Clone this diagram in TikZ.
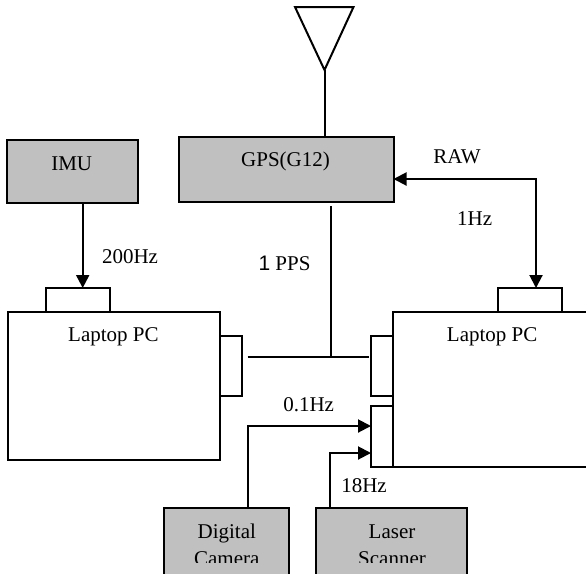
\documentclass[tikz,border=0pt]{standalone}
\usepackage{fontspec}
\setmainfont{Liberation Serif}
\newfontfamily\arialfont{Liberation Sans}
\usetikzlibrary{arrows.meta}
\definecolor{boxgray}{RGB}{192,192,192}
\begin{document}
\begin{tikzpicture}[x=1pt,y=-1pt, line width=2pt,
  box/.style={draw, fill=boxgray, inner sep=0pt, outer sep=0pt, anchor=north west},
  plain/.style={draw, fill=white, inner sep=0pt, outer sep=0pt, anchor=north west},
  txt/.style={font=\fontsize{21}{25}\selectfont, inner sep=0pt, anchor=base},
  arr/.style={-{Triangle[length=13pt,width=13pt]}},
  darr/.style={{Triangle[length=13pt,width=13pt]}-{Triangle[length=13pt,width=13pt]}}]
\clip (0,0) rectangle (586,573);
% boxes
\node[box, minimum width=131pt, minimum height=63.5pt] (imu) at (6.5,139.5) {};
\node[box, minimum width=215pt, minimum height=65pt] (gps) at (178.5,137) {};
\node[plain, minimum width=212pt, minimum height=148pt] (llap) at (8,312) {};
\node[plain, minimum width=64pt, minimum height=24pt] (ltab) at (46,288) {};
\node[plain, minimum width=22pt, minimum height=60pt] (lside) at (220,336) {};
\node[plain, minimum width=215pt, minimum height=155pt] (rlap) at (393,312) {};
\node[plain, minimum width=64pt, minimum height=24pt] (rtab) at (498,288) {};
\node[plain, minimum width=22pt, minimum height=59.5pt] (rside) at (371,336) {};
\node[plain, minimum width=22pt, minimum height=61pt] (rside2) at (371,406) {};
\node[box, minimum width=125pt, minimum height=80pt] (cam) at (164,508) {};
\node[box, minimum width=151pt, minimum height=80pt] (las) at (316,508) {};
% antenna
\coordinate (ant) at (324.5,70);
\draw[line join=miter] (295,7) -- (353.5,7) -- (ant) -- cycle;
\draw (ant) -- (ant |- gps.north);
% 1 PPS
\coordinate (ppstop) at (330.5,206);
\coordinate (ppsj) at (330.5,357);
\coordinate (ppsl) at (247.5,357);
\coordinate (ppsr) at (369,357);
\draw (ppstop) -- (ppsj);
\draw (ppsl) -- (ppsr);
% RAW
\coordinate (rawc) at (536,179);
\draw[darr] (gps.east |- rawc) -- (rawc) -- (rawc |- rtab.north);
% IMU
\coordinate (imux) at (82.7,250);
\draw[arr] (imux |- imu.south) -- (imux |- ltab.north);
% camera and laser
\coordinate (camc) at (247.5,426);
\draw[arr] (camc |- cam.north) -- (camc) -- (camc -| rside2.west);
\coordinate (lasc) at (330,453);
\draw[arr] (lasc |- las.north) -- (lasc) -- (lasc -| rside2.west);
% texts
\node[txt] (timu) at (71.7,170) {IMU};
\node[txt] (tgps) at (285.5,166.7) {GPS(G12)};
\node[txt] (traw) at (457,163.3) {RAW};
\node[txt] (t1hz) at (474.6,225.7) {1Hz};
\node[txt] (t200) at (130,263.3) {200Hz};
\node[txt] (tpps) at (284.5,270) {{\arialfont 1} PPS};
\node[txt] (tll) at (113.4,341.7) {Laptop PC};
\node[txt] (trl) at (492.2,341.7) {Laptop PC};
\node[txt] (t01) at (308.7,411.7) {0.1Hz};
\node[txt] (t18) at (364,492.7) {18Hz};
\node[txt] (tdig) at (226.8,538.3) {Digital};
\node[txt] (tlas) at (392,538.3) {Laser};
\begin{scope}
\clip (0,0) rectangle (586,562.5);
\node[txt] (tcam) at (226.8,565) {Camera};
\node[txt] (tscan) at (392,565) {Scanner};
\end{scope}
\end{tikzpicture}
\end{document}
